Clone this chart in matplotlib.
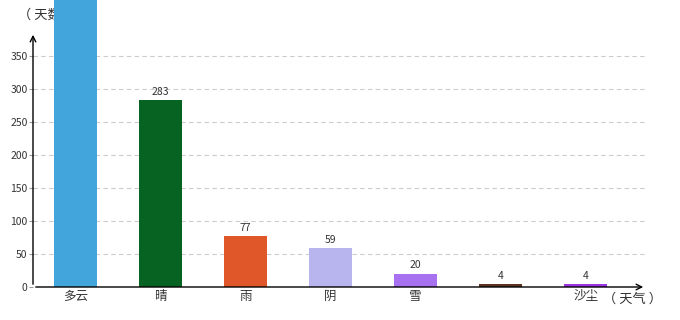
import matplotlib
matplotlib.use("Agg")
import matplotlib.pyplot as plt

plt.rcParams['font.family'] = ['Noto Sans CJK SC', 'DejaVu Sans']

weather = ['多云', '晴', '雨', '阴', '雪', '', '沙尘']
days = [620, 283, 77, 59, 20, 4, 4]
colors = ['#42a5db', '#066322', '#e0572a', '#b8b4ee', '#a871f0', '#5a3420', '#9a35e0']
yticks = [0, 50, 100, 150, 200, 250, 300, 350]
ymax = 386

fig = plt.figure(figsize=(6.8, 3.2), dpi=100)
ax = fig.add_axes([33 / 680, 33 / 320, 613 / 680, 255 / 320])

x = list(range(len(weather)))
bars = ax.bar(x, days, width=0.5, color=colors, zorder=3, clip_on=False)
for xi, v in zip(x, days):
    if v < ymax:
        ax.text(xi, v + 5, str(v), ha='center', va='bottom', fontsize=7.5, color='#333333')

ax.set_xlim(-0.5, 6.71)
ax.set_ylim(0, ymax)
ax.set_yticks(yticks)
ax.set_xticks(x)
ax.set_xticklabels(weather, fontsize=9, color='#333333')
ax.tick_params(axis='x', length=0, pad=2)
ax.tick_params(axis='y', length=3, width=0.8, labelsize=7.5, labelcolor='#333333', pad=1, color='#999999')
ax.yaxis.grid(True, linestyle=(0, (4, 3)), color='#cccccc', linewidth=0.8, zorder=0)
for s in ax.spines.values():
    s.set_visible(False)

# axis lines with arrows
ax.annotate('', xy=(0, 1.0), xytext=(0, 0), xycoords='axes fraction',
            arrowprops=dict(arrowstyle='->', color='black', lw=1), annotation_clip=False)
ax.annotate('', xy=(1.0, 0), xytext=(0, 0), xycoords='axes fraction',
            arrowprops=dict(arrowstyle='->', color='black', lw=1), annotation_clip=False)

fig.text(18 / 680, 1 - 15 / 320, '（ 天数 ）', fontsize=9.5, color='#333333', va='center', zorder=-1)
fig.text(603 / 680, 1 - 299 / 320, '（ 天气 ）', fontsize=9.5, color='#333333', va='center')

fig.savefig('out.png', dpi=100)
